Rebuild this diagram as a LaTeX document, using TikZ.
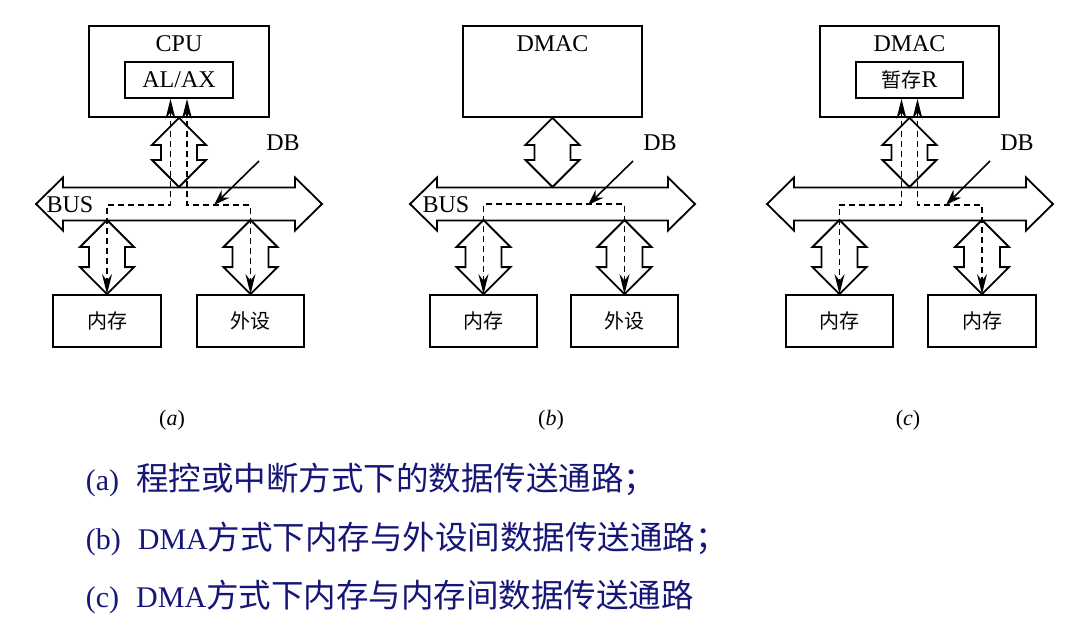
\documentclass[tikz,border=0pt]{standalone}
\usepackage{fontspec}
\setmainfont{Liberation Serif}
\newfontfamily\cjk{Noto Sans CJK SC}
\usepackage{xcolor}
\usetikzlibrary{arrows.meta}
\usetikzlibrary{calc}
\usetikzlibrary{positioning}
\definecolor{capblue}{RGB}{22,22,120}

% fat double arrow, vertical: top tip, bottom tip
\newcommand{\fatv}[2]{\draw[fat] let \p1=#1, \p2=#2 in
  (\p1) -- (\x1+27,\y1-27) -- (\x1+18,\y1-27) -- (\x1+18,\y2+27) -- (\x1+27,\y2+27) -- (\x1,\y2)
  -- (\x1-27,\y2+27) -- (\x1-18,\y2+27) -- (\x1-18,\y1-27) -- (\x1-27,\y1-27) -- cycle;}
% fat double arrow, horizontal: left tip, right tip
\newcommand{\fath}[2]{\draw[fat] let \p1=#1, \p2=#2 in
  (\p1) -- (\x1+27,\y1+26.5) -- (\x1+27,\y1+16.5) -- (\x2-27,\y1+16.5) -- (\x2-27,\y1+26.5) -- (\x2,\y1)
  -- (\x2-27,\y1-26.5) -- (\x2-27,\y1-16.5) -- (\x1+27,\y1-16.5) -- (\x1+27,\y1-26.5) -- cycle;}

\begin{document}
\begin{tikzpicture}[x=1pt,y=-1pt,line width=1.8pt]
 	\tikzstyle{box}=[draw, rectangle, inner sep=0pt]
 	\tikzstyle{fat}=[draw, fill=white, line join=miter]
 	\tikzstyle{dpath}=[line width=1.6pt, dash pattern=on 6pt off 4pt, {Stealth[length=20pt,width=10pt]}-{Stealth[length=20pt,width=10pt]}]
 	\tikzstyle{ptr}=[line width=1.6pt, -{Stealth[length=16pt,width=11pt]}]
 	\tikzstyle{lbl}=[font=\fontsize{24}{28}\selectfont, inner sep=0pt]
 	\tikzstyle{cn}=[font=\cjk\fontsize{20}{24}\selectfont, inner sep=0pt]
 	\tikzstyle{sub}=[font=\fontsize{22}{26}\selectfont, inner sep=0pt]
 	\tikzstyle{captxt}=[font=\fontsize{30}{34}\selectfont, text=capblue, inner sep=0pt, anchor=base west]
 	\useasboundingbox (0,0) rectangle (1089,625);

 	% (a)
 	\node[box, minimum width=180, minimum height=91] (CPU) at (179,71.5) {};
 	\node[lbl] (cpuT) at (179,44) {CPU};
 	\node[box, minimum width=108, minimum height=36] (AL) at (179,80) {};
 	\node[lbl] at (AL) {AL/AX};
 	\node[box, minimum width=108, minimum height=52] (M1) at (107,321) {};
 	\node[cn] at (M1) {内存};
 	\node[box, minimum width=107, minimum height=52] (IO1) at (250.5,321) {};
 	\node[cn] at (IO1) {外设};
 	\coordinate (busL1) at (36,204);
 	\coordinate (busR1) at (322,204);
 	\fath{(busL1)}{(busR1)}
 	\fatv{(CPU.south)}{(179,187)}
 	\fatv{(M1.north |- 0,220)}{(M1.north)}
 	\fatv{(IO1.north |- 0,220)}{(IO1.north)}
 	\draw[dpath] ($(AL.south)+(-8.5,0)$) |- (M1.north |- 0,205) -- (M1.north);
 	\draw[dpath] ($(AL.south)+(8,0)$) |- (IO1.north |- 0,205) -- (IO1.north);
 	\node[lbl] (bus1) at (70,205) {BUS};
 	\node[lbl] (db1) at (283,143) {DB};
 	\coordinate (s1) at (259,161);
 	\coordinate (t1) at (214,205);
 	\draw[ptr] (s1) -- (t1);
 	\node[sub] (a) at (172,420) {(\textit{a})};

 	% (b)
 	\node[box, minimum width=179, minimum height=91] (DM2) at (552.5,71.5) {};
 	\node[lbl] (dmT2) at (552.5,44) {DMAC};
 	\node[box, minimum width=107, minimum height=52] (M2) at (483.5,321) {};
 	\node[cn] at (M2) {内存};
 	\node[box, minimum width=107, minimum height=52] (IO2) at (624.5,321) {};
 	\node[cn] at (IO2) {外设};
 	\coordinate (busL2) at (410,204);
 	\coordinate (busR2) at (695,204);
 	\fath{(busL2)}{(busR2)}
 	\fatv{(DM2.south)}{(552.5,187)}
 	\fatv{(M2.north |- 0,220)}{(M2.north)}
 	\fatv{(IO2.north |- 0,220)}{(IO2.north)}
 	\draw[dpath] (M2.north) -- ++(0,-90) -| (IO2.north);
 	\node[lbl] (bus2) at (446,205) {BUS};
 	\node[lbl] (db2) at (660,143) {DB};
 	\coordinate (s2) at (633,161);
 	\coordinate (t2) at (588,205);
 	\draw[ptr] (s2) -- (t2);
 	\node[sub] (b) at (551,420) {(\textit{b})};

 	% (c)
 	\node[box, minimum width=179, minimum height=91] (DM3) at (909.5,71.5) {};
 	\node[lbl] (dmT3) at (909.5,44) {DMAC};
 	\node[box, minimum width=107, minimum height=36] (R3) at (909.5,80) {};
 	\node[lbl] at (R3) {{\cjk\fontsize{20}{24}\selectfont 暂存}R};
 	\node[box, minimum width=107, minimum height=52] (M3) at (839.5,321) {};
 	\node[cn] at (M3) {内存};
 	\node[box, minimum width=108, minimum height=52] (M4) at (982,321) {};
 	\node[cn] at (M4) {内存};
 	\coordinate (busL3) at (767,204);
 	\coordinate (busR3) at (1053,204);
 	\fath{(busL3)}{(busR3)}
 	\fatv{(DM3.south)}{(909.5,187)}
 	\fatv{(M3.north |- 0,220)}{(M3.north)}
 	\fatv{(M4.north |- 0,220)}{(M4.north)}
 	\draw[dpath] ($(R3.south)+(-8,0)$) |- (M3.north |- 0,205) -- (M3.north);
 	\draw[dpath] ($(R3.south)+(8,0)$) |- (M4.north |- 0,205) -- (M4.north);
 	\node[lbl] (db3) at (1017,143) {DB};
 	\coordinate (s3) at (990,161);
 	\coordinate (t3) at (946,205);
 	\draw[ptr] (s3) -- (t3);
 	\node[sub] (c) at (908,420) {(\textit{c})};

 	% captions
 	\node[captxt] (La) at (85,490) {(a)\hspace{17pt}{\cjk\fontsize{32.5}{36}\selectfont 程控或中断方式下的数据传送通路；}};
 	\node[captxt] (Lb) at (85,549) {(b)\hspace{17pt}DMA{\cjk\fontsize{32.5}{36}\selectfont 方式下内存与外设间数据传送通路；}};
 	\node[captxt] (Lc) at (85,607) {(c)\hspace{17pt}DMA{\cjk\fontsize{32.5}{36}\selectfont 方式下内存与内存间数据传送通路}};
\end{tikzpicture}
\end{document}
